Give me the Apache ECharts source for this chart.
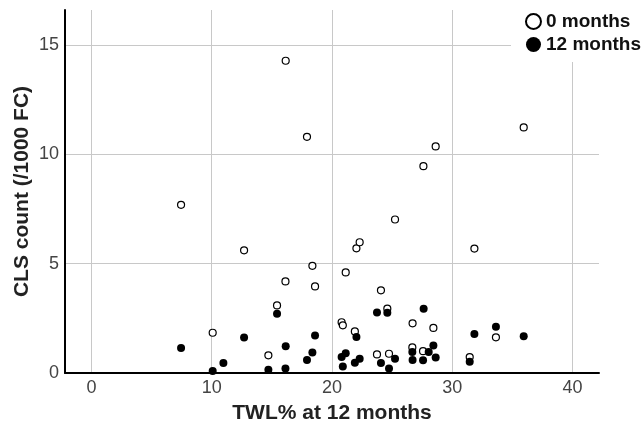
<!DOCTYPE html>
<html>
<head>
<meta charset="utf-8">
<script src="https://cdn.jsdelivr.net/npm/echarts@6/dist/echarts.min.js"></script>
<style>
    html, body { margin: 0; padding: 0; background: #fff; }
    #contain { width: 643px; height: 436px; }
</style>
</head>
<body>
<div id="contain"></div>
<script>
// TWL% at 12 months and CLS count, 0 months (open circles)
var twl0 = [7.45, 10.08, 12.69, 14.71, 15.43, 16.15, 16.13, 17.92, 18.37, 18.59, 20.8, 20.9, 21.14, 21.9, 22.03, 22.3,
    23.74, 24.07, 24.6, 24.74, 25.24, 26.68, 26.7, 27.57, 27.6, 28.43, 28.62, 31.45, 31.84, 33.63, 35.94];
var cls0 = [7.69, 1.84, 5.61, 0.81, 3.09, 14.28, 4.19, 10.8, 4.9, 3.96, 2.32, 2.18, 4.6, 1.9, 5.7, 5.98,
    0.85, 3.78, 2.94, 0.88, 7.02, 1.17, 2.27, 1.0, 9.46, 2.06, 10.36, 0.73, 5.69, 1.63, 11.23];
// 12 months (filled circles)
var twl12 = [7.45, 10.08, 10.97, 12.69, 14.71, 15.43, 16.15, 16.13, 17.92, 18.37, 18.59, 20.8, 20.9, 21.14, 21.9, 22.03,
    22.3, 23.74, 24.07, 24.6, 24.74, 25.24, 26.68, 26.7, 27.57, 27.62, 28.04, 28.43, 28.62, 31.45, 31.84, 33.63, 35.94];
var cls12 = [1.14, 0.09, 0.46, 1.62, 0.15, 2.71, 1.22, 0.21, 0.59, 0.94, 1.72, 0.73, 0.3, 0.9, 0.47, 1.65,
    0.65, 2.77, 0.46, 2.76, 0.21, 0.65, 0.96, 0.59, 0.58, 2.94, 0.96, 1.26, 0.71, 0.52, 1.78, 2.12, 1.68];

var xTicks = [0, 10, 20, 30, 40];
var yTicks = [0, 5, 10, 15];

function pairs(xs, ys) {
    var out = [];
    for (var i = 0; i < xs.length; i++) {
        out.push([xs[i], ys[i]]);
    }
    return out;
}

var font = 'Liberation Sans, Arial, sans-serif';

var option = {
    animation: false,
    backgroundColor: '#fff',
    grid: {
        left: 65,
        right: 44,
        top: 10,
        bottom: 63
    },
    legend: {
        right: 0,
        top: 6,
        orient: 'vertical',
        backgroundColor: '#fff',
        padding: [6, 2, 8, 14],
        itemWidth: 15,
        itemHeight: 15,
        itemGap: 4,
        icon: 'circle',
        textStyle: {
            fontFamily: font,
            fontSize: 19,
            fontWeight: 'bold',
            color: '#111'
        },
        data: ['0 months', '12 months']
    },
    xAxis: {
        type: 'value',
        min: -2.2,
        max: 42.2,
        name: 'TWL% at 12 months',
        nameLocation: 'middle',
        nameGap: 30,
        nameTextStyle: {
            fontFamily: font,
            fontSize: 21,
            fontWeight: 'bold',
            color: '#222'
        },
        axisLine: {
            onZero: false,
            lineStyle: { color: '#000', width: 2 }
        },
        axisTick: { show: false, customValues: xTicks },
        axisLabel: {
            customValues: xTicks,
            margin: 6,
            fontFamily: font,
            fontSize: 18,
            color: '#444'
        },
        splitLine: {
            show: true,
            lineStyle: { color: '#c8c8c8', width: 1 }
        }
    },
    yAxis: {
        type: 'value',
        min: 0,
        max: 16.6,
        name: 'CLS count (/1000 FC)',
        nameLocation: 'middle',
        nameGap: 32,
        nameMoveOverlap: false,
        nameTextStyle: {
            fontFamily: font,
            fontSize: 21,
            fontWeight: 'bold',
            color: '#222'
        },
        axisLine: {
            show: true,
            onZero: false,
            lineStyle: { color: '#000', width: 2 }
        },
        axisTick: { show: false, customValues: yTicks },
        axisLabel: {
            customValues: yTicks,
            margin: 6,
            fontFamily: font,
            fontSize: 18,
            color: '#444'
        },
        splitLine: {
            show: true,
            lineStyle: { color: '#c8c8c8', width: 1 }
        }
    },
    series: [{
        name: '0 months',
        type: 'scatter',
        symbol: 'circle',
        symbolSize: 7,
        itemStyle: {
            color: '#fff',
            borderColor: '#000',
            borderWidth: 1.2,
            opacity: 1
        },
        data: pairs(twl0, cls0)
    }, {
        name: '12 months',
        type: 'scatter',
        symbol: 'circle',
        symbolSize: 8,
        itemStyle: {
            color: '#000',
            opacity: 1
        },
        data: pairs(twl12, cls12)
    }]
};

var myChart = echarts.init(document.getElementById('contain'));
myChart.setOption(option);
</script>
</body>
</html>
